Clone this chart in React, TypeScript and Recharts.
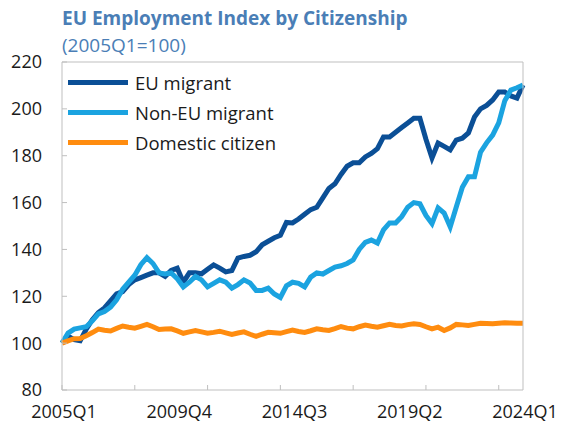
import { LineChart, Line, XAxis, YAxis, ReferenceLine } from "recharts";

// 2005Q1 .. 2024Q1
const quarters: string[] = [];
for (let y = 2005; y <= 2024; y++) {
  for (let q = 1; q <= 4; q++) {
    if (y === 2024 && q > 1) break;
    quarters.push(`${y}Q${q}`);
  }
}

const euMigrant = [
  100, 103, 101.5, 101, 106, 110, 113, 115, 118, 121,
  122, 125, 127, 128, 129, 130, 130, 128.5, 131, 132,
  126, 130, 130, 129.6, 131.5, 133.4, 132, 130.4, 131, 136.3,
  137, 137.5, 139, 142, 143.5, 145, 146, 151.5, 151.3, 153,
  155, 157, 158, 162, 166, 168, 172, 175.5, 177, 177,
  179.5, 181, 183, 188, 188, 190, 192, 194, 196, 196,
  187, 179, 185.4, 184, 182.5, 186.7, 187.5, 189.7, 196.5, 200,
  201.5, 203.8, 207.2, 207.2, 205.5, 204.6, 210.2,
];

const nonEuMigrant = [
  100, 104.3, 106, 106.5, 107, 109.5, 112.5, 113.5, 115.4, 118.5,
  123, 126, 129, 133.5, 136.5, 134, 130, 129.5, 130, 127.5,
  124, 126, 128.5, 127, 124, 125.5, 127, 126, 123.5, 125,
  127, 125.7, 122.5, 122.5, 123.5, 121, 119.5, 124.5, 126, 125.5,
  124, 128.2, 130, 129.5, 131, 132.5, 133, 134, 135.5, 140,
  143, 144, 142.7, 148.3, 151.3, 151.3, 154, 158, 160, 159.5,
  154.5, 151, 157.7, 155.5, 149.6, 158.1, 166.5, 171, 171, 181.5,
  185.5, 188.8, 194, 203.5, 208, 209, 210.2,
];

const domesticCitizen = [
  100, 101, 101.9, 102, 103.2, 104.5, 106, 105.5, 105.2, 106.3,
  107.3, 106.8, 106.4, 107.2, 108, 107, 105.8, 106, 106.1, 105.2,
  104.2, 104.8, 105.4, 104.8, 104.2, 104.6, 105.1, 104.4, 103.7, 104.3,
  104.8, 103.8, 102.9, 103.8, 104.6, 104.4, 104.2, 104.9, 105.6, 105,
  104.6, 105.3, 106.1, 105.7, 105.4, 106.2, 107.1, 106.4, 106.1, 107,
  107.7, 107.2, 106.8, 107.4, 108, 107.5, 107.3, 107.9, 108.3, 108,
  107, 106.1, 106.8, 105.4, 106.5, 108, 107.8, 107.5, 108, 108.5,
  108.4, 108.3, 108.5, 108.7, 108.6, 108.5, 108.5,
];

const yTicks = [80, 100, 120, 140, 160, 180, 200, 220];
const labelEvery = 19;
const tickMarkEvery = 12;

const series = [
  { key: "eu", name: "EU migrant", color: "#0B4F96" },
  { key: "nonEu", name: "Non-EU migrant", color: "#1BA3E0" },
  { key: "dom", name: "Domestic citizen", color: "#FF8C0F" },
];

const data = quarters.map((q, i) => ({
  q,
  eu: euMigrant[i],
  nonEu: nonEuMigrant[i],
  dom: domesticCitizen[i],
}));

const xTicks = quarters.filter((_, i) => i % labelEvery === 0 || i % tickMarkEvery === 0);

const FONT = "'Open Sans', 'Noto Sans', sans-serif";
const AXIS = "#BFBFBF";
const TICK_FS = 18;

const XTick = (props: any) => {
  const { x, y, payload } = props;
  const idx = quarters.indexOf(payload.value);
  return (
    <g>
      {idx % tickMarkEvery === 0 && <line x1={x} x2={x} y1={y} y2={y - 5} stroke={AXIS} />}
      {idx % labelEvery === 0 && (
        <text x={x + 2} y={y + 28} textAnchor="middle" fill="#1a1a1a" fontSize={TICK_FS} fontFamily={FONT}>
          {payload.value}
        </text>
      )}
    </g>
  );
};

export default function App() {
  return (
    <div style={{ position: "relative", width: 561, height: 417, background: "#fff" }}>
      <div
        style={{
          position: "absolute",
          left: 54,
          top: -1,
          fontFamily: FONT,
          fontWeight: 700,
          fontSize: 19,
          color: "#4A7EB6",
          lineHeight: "22px",
          whiteSpace: "nowrap",
        }}
      >
        EU Employment Index by Citizenship
      </div>
      <div
        style={{
          position: "absolute",
          left: 54,
          top: 26,
          fontFamily: FONT,
          fontSize: 19,
          color: "#4A7EB6",
          lineHeight: "22px",
        }}
      >
        (2005Q1=100)
      </div>
      <LineChart
        width={561}
        height={417}
        data={data}
        margin={{ top: 54, right: 6, left: 10, bottom: 5 }}
      >
        <XAxis
          dataKey="q"
          ticks={xTicks}
          interval={0}
          tick={<XTick />}
          tickLine={false}
          tickSize={0}
          tickMargin={0}
          height={30}
          stroke={AXIS}
          padding={{ left: 0, right: 0 }}
        />
        <YAxis
          yAxisId="left"
          domain={[80, 220]}
          ticks={yTicks}
          width={44}
          stroke={AXIS}
          tickSize={-5}
          tickMargin={25}
          tick={{ fill: "#1a1a1a", fontSize: TICK_FS, fontFamily: FONT }}
        />
        <YAxis
          yAxisId="right"
          orientation="right"
          domain={[80, 220]}
          ticks={yTicks}
          width={40}
          stroke={AXIS}
          tickSize={-5}
          tickMargin={22}
          tick={{ fill: "#1a1a1a", fontSize: TICK_FS, fontFamily: FONT }}
        />
        <ReferenceLine yAxisId="left" y={220} stroke={AXIS} />
        {series.map((s) => (
          <Line
            key={s.key}
            yAxisId="left"
            type="linear"
            dataKey={s.key}
            name={s.name}
            stroke={s.color}
            strokeWidth={5}
            dot={false}
            isAnimationActive={false}
          />
        ))}
      </LineChart>
      <div
        style={{
          position: "absolute",
          left: 60,
          top: 59,
          fontFamily: FONT,
          fontSize: 18.5,
          color: "#1a1a1a",
        }}
      >
        {series.map((s) => (
          <div key={s.key} style={{ display: "flex", alignItems: "center", height: 30 }}>
            <div style={{ width: 60, height: 5, background: s.color, marginRight: 7 }} />
            <span>{s.name}</span>
          </div>
        ))}
      </div>
    </div>
  );
}
